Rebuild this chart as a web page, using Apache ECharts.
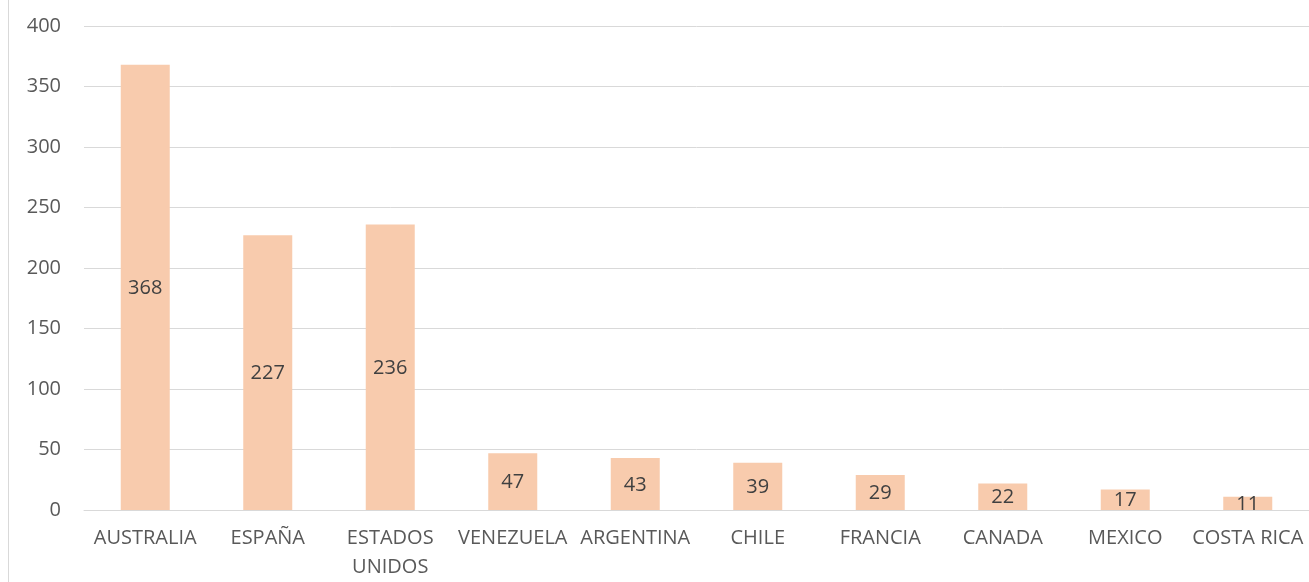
<!DOCTYPE html>
<html>
<head>
<meta charset="utf-8">
<script src="https://cdn.jsdelivr.net/npm/echarts@6/dist/echarts.min.js"></script>
<style>
  html, body { margin: 0; padding: 0; background: #fff; }
  #chart { width: 1309px; height: 582px; }
  #frame { position: absolute; left: 8px; top: 0; width: 1px; height: 582px; background: #d9d9d9; z-index: 10; }
</style>
</head>
<body>
<div id="frame"></div>
<div id="chart"></div>
<script>
const countries = ['AUSTRALIA', 'ESPAÑA', 'ESTADOS UNIDOS', 'VENEZUELA', 'ARGENTINA', 'CHILE', 'FRANCIA', 'CANADA', 'MEXICO', 'COSTA RICA'];
const counts = [368, 227, 236, 47, 43, 39, 29, 22, 17, 11];
const yTicks = { min: 0, max: 400, step: 50 };

const chart = echarts.init(document.getElementById('chart'));
const font = '"Open Sans", "Liberation Sans", sans-serif';

chart.setOption({
  backgroundColor: '#fff',
  animation: false,
  grid: { left: 84, right: 0, top: 26, bottom: 70 },
  xAxis: {
    type: 'category',
    data: countries,
    axisLine: { lineStyle: { color: '#d9d9d9', width: 1 } },
    axisTick: { show: false },
    axisLabel: {
      color: '#595959',
      fontFamily: font,
      fontSize: 20,
      margin: 14,
      lineHeight: 29,
      interval: 0,
      formatter: v => v.length > 12 ? v.replace(' ', '\n') : v
    }
  },
  yAxis: {
    type: 'value',
    min: yTicks.min,
    max: yTicks.max,
    interval: yTicks.step,
    axisLine: { show: false },
    axisTick: { show: false },
    splitLine: { lineStyle: { color: '#d9d9d9', width: 1 } },
    axisLabel: { color: '#595959', fontFamily: font, fontSize: 20, margin: 23 }
  },
  series: [{
    type: 'bar',
    data: counts,
    barWidth: '40%',
    itemStyle: { color: '#f8cbad' },
    label: {
      show: true,
      position: 'inside',
      offset: [0, 1],
      color: '#404040',
      fontFamily: font,
      fontSize: 20
    }
  }]
});
</script>
</body>
</html>
